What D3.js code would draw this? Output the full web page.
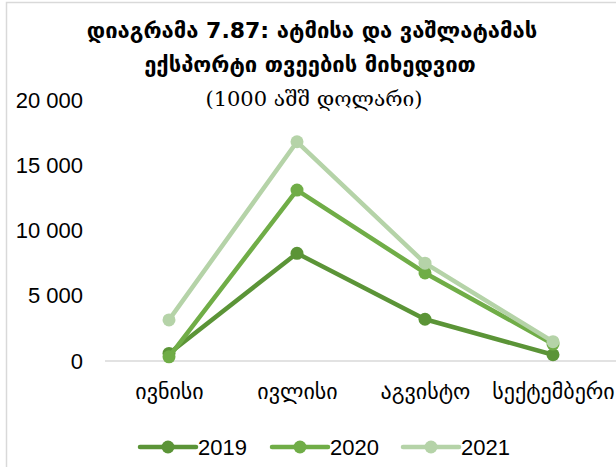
<!DOCTYPE html>
<html><head><meta charset="utf-8">
<script src="https://cdn.jsdelivr.net/npm/d3@7"></script>
<style>body{margin:0;background:#fff}svg{display:block}</style>
</head><body>
<svg id="c" width="616" height="467"></svg>
<script>
const categories = ["ივნისი", "ივლისი", "აგვისტო", "სექტემბერი"];
const seriesNames = ["2019", "2020", "2021"];
const values2019 = [580, 8250, 3200, 480];
const values2020 = [320, 13100, 6750, 1300];
const values2021 = [3150, 16800, 7500, 1480];
const colors = ["#5B9437", "#70AD47", "#B5D3A8"];
const yTicks = [0, 5000, 10000, 15000, 20000];
const titleLines = ["დიაგრამა 7.87: ატმისა და ვაშლატამას", "ექსპორტი თვეების მიხედვით"];
const subtitle = "(1000 აშშ დოლარი)";

const series = [values2019, values2020, values2021];
const svg = d3.select("#c");

// frame
svg.append("rect").attr("x", 6.5).attr("y", 2.5).attr("width", 700).attr("height", 600)
  .attr("fill", "none").attr("stroke", "#d9d9d9").attr("stroke-width", 1.5);

const x = d3.scalePoint().domain(categories).range([169, 553]);
const y = d3.scaleLinear().domain([0, 20000]).range([361, 100]);

// titles
const tf = "'DejaVu Sans', sans-serif";
svg.append("text").attr("x", 312).attr("y", 38).attr("text-anchor", "middle")
  .attr("font-family", tf).attr("font-size", 22).attr("font-weight", "bold")
  .attr("fill", "#000").text(titleLines[0]);
svg.append("text").attr("x", 310).attr("y", 72).attr("text-anchor", "middle")
  .attr("font-family", tf).attr("font-size", 22).attr("font-weight", "bold")
  .attr("fill", "#000").text(titleLines[1]);
svg.append("text").attr("x", 314).attr("y", 106).attr("text-anchor", "middle")
  .attr("font-family", "'DejaVu Serif', serif").attr("font-size", 21).attr("fill", "#000").text(subtitle);

// y axis labels
const yAxis = d3.axisLeft(y).tickValues(yTicks).tickSize(0).tickPadding(0)
  .tickFormat(d => d3.format(",")(d).replace(/,/g, " "));
const ya = svg.append("g").attr("transform", "translate(83,0)").call(yAxis);
ya.select(".domain").remove();
ya.selectAll("text").attr("font-family", "'Liberation Sans', Arial, sans-serif")
  .attr("font-size", 22).attr("fill", "#000");

// baseline
svg.append("line").attr("x1", 105).attr("x2", 616).attr("y1", y(0)).attr("y2", y(0))
  .attr("stroke", "#d9d9d9").attr("stroke-width", 1.5);

// x labels
const xAxis = d3.axisBottom(x).tickSize(0).tickPadding(0);
const xa = svg.append("g").attr("transform", "translate(0,383)").call(xAxis);
xa.select(".domain").remove();
xa.selectAll("text").attr("font-family", "'DejaVu Sans', sans-serif")
  .attr("font-size", 22).attr("fill", "#000").attr("dy", "0.71em");

// lines
const line = d3.line().x((d, i) => x(categories[i])).y(d => y(d));
series.forEach((vals, si) => {
  const g = svg.append("g");
  g.append("path").datum(vals).attr("d", line).attr("fill", "none")
    .attr("stroke", colors[si]).attr("stroke-width", 4.5).attr("stroke-linejoin", "round");
  g.selectAll("circle").data(vals).join("circle")
    .attr("cx", (d, i) => x(categories[i])).attr("cy", d => y(d)).attr("r", 6.5)
    .attr("fill", colors[si]);
});

// legend
const legX = [140, 272, 403];
seriesNames.forEach((n, i) => {
  const g = svg.append("g").attr("transform", `translate(${legX[i]},447)`);
  g.append("line").attr("x1", 0).attr("x2", 56).attr("y1", 0).attr("y2", 0)
    .attr("stroke", colors[i]).attr("stroke-width", 4.5).attr("stroke-linecap", "round");
  g.append("circle").attr("cx", 28).attr("cy", 0).attr("r", 6.5).attr("fill", colors[i]);
  g.append("text").attr("x", 58).attr("y", 0).attr("dy", "0.36em")
    .attr("font-family", "'Liberation Sans', Arial, sans-serif").attr("font-size", 22)
    .attr("fill", "#000").text(n);
});
</script>
</body></html>
